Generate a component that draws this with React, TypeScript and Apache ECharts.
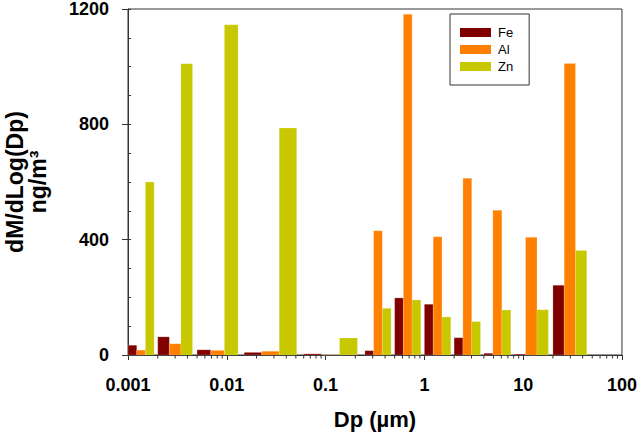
import React, { useEffect, useRef } from "react";
import * as echarts from "echarts";

// Stage (group) lower and upper diameters, µm
const groupLow = [0.001, 0.002, 0.005, 0.015, 0.06, 0.25, 0.5, 1.0, 2.0, 4.0, 8.1, 20];
const groupHigh = [0.00184, 0.0045, 0.013, 0.051, 0.21, 0.46, 0.92, 1.85, 3.7, 7.5, 18, 44];

// dM/dLog(Dp), ng/m3
const fe = [34, 63, 18, 9, 4, 15, 198, 176, 60, 6, 3, 242];
const al = [17, 39, 16, 13, 1, 431, 1182, 410, 613, 502, 408, 1011];
const zn = [600, 1010, 1145, 787, 59, 162, 191, 132, 116, 156, 157, 362];

const seriesNames = ["Fe", "Al", "Zn"];
const seriesColors = ["#800000", "#FF8000", "#C8C800"];
const seriesValues = [fe, al, zn];

const xTickLabels = ["0.001", "0.01", "0.1", "1", "10", "100"];
const yTickLabels = ["0", "400", "800", "1200"];
const xDecades = [0.001, 0.01, 0.1, 1, 10];
const minorMultipliers = [2, 3, 4, 5, 6, 7, 8, 9];

const FONT = "'Liberation Sans', Arial, Helvetica, sans-serif";

function buildBars(k: number) {
  const vals = seriesValues[k];
  return vals.map((v, i) => {
    const a = Math.log10(groupLow[i]);
    const b = Math.log10(groupHigh[i]);
    const w = (b - a) / 3;
    return [Math.pow(10, a + k * w), Math.pow(10, a + (k + 1) * w), v];
  });
}

export default function App() {
  const ref = useRef<HTMLDivElement>(null);
  useEffect(() => {
    if (!ref.current) return;
    const chart = echarts.init(ref.current, null, { renderer: "svg" });
    const minorTicks: number[][] = [];
    xDecades.forEach((d) => minorMultipliers.forEach((m) => minorTicks.push([d * m])));

    const barSeries = seriesNames.map((name, k) => ({
      name,
      type: "custom",
      coordinateSystem: "cartesian2d",
      xAxisIndex: 0,
      yAxisIndex: 0,
      itemStyle: { color: seriesColors[k] },
      encode: { x: [0, 1], y: 2 },
      data: buildBars(k),
      renderItem: (params: any, api: any) => {
        const p0 = api.coord([api.value(0), api.value(2)]);
        const p1 = api.coord([api.value(1), 0]);
        return {
          type: "rect",
          shape: { x: p0[0], y: p0[1], width: p1[0] - p0[0], height: p1[1] - p0[1] },
          style: { fill: seriesColors[k], stroke: "rgba(255,255,255,0.35)", lineWidth: 0.5 },
        };
      },
    }));

    chart.setOption({
      animation: false,
      backgroundColor: "#ffffff",
      grid: {
        left: 128,
        right: 16,
        top: 8,
        bottom: 79,
        show: true,
        borderColor: "#333",
        borderWidth: 1,
      },
      legend: {
        data: seriesNames,
        orient: "vertical",
        left: 450,
        top: 14,
        icon: "rect",
        itemWidth: 31,
        itemHeight: 9,
        itemGap: 4,
        padding: [12, 16, 12, 10],
        borderColor: "#333",
        borderWidth: 1,
        backgroundColor: "#fff",
        textStyle: { fontFamily: FONT, fontSize: 13, color: "#000", padding: [0, 0, 0, 2] },
      },
      xAxis: {
        type: "log",
        logBase: 10,
        min: 0.001,
        max: 100,
        name: "Dp (\u00b5m)",
        nameLocation: "middle",
        nameGap: 53,
        nameTextStyle: { fontFamily: FONT, fontSize: 22, fontWeight: "bold", color: "#000" },
        axisLine: { show: true, lineStyle: { color: "#333", width: 1 } },
        axisTick: { show: true, inside: false, length: 5, lineStyle: { color: "#333" } },
        splitLine: { show: false },
        axisLabel: {
          fontFamily: FONT,
          fontSize: 18,
          fontWeight: "bold",
          color: "#000",
          margin: 21,
          formatter: (v: number, i: number) => xTickLabels[i] ?? String(v),
        },
      },
      yAxis: [
        {
          type: "value",
          min: 0,
          max: 1200,
          interval: 400,
          axisLine: { show: true, lineStyle: { color: "#333", width: 1 } },
          axisTick: { show: true, inside: false, length: 6, lineStyle: { color: "#333" } },
          splitLine: { show: false },
          axisLabel: {
            fontFamily: FONT,
            fontSize: 18,
            fontWeight: "bold",
            color: "#000",
            margin: 19,
            formatter: (v: number, i: number) => yTickLabels[i] ?? String(v),
          },
        },
        {
          type: "value",
          position: "left",
          min: 0,
          max: 1200,
          interval: 100,
          axisLine: { show: false },
          axisTick: { show: true, inside: true, length: 3, lineStyle: { color: "#333" } },
          axisLabel: { show: false },
          splitLine: { show: false },
        },
      ],
      graphic: [
        {
          type: "text",
          x: 26,
          y: 182,
          rotation: Math.PI / 2,
          style: {
            text: "dM/dLog(Dp)\nng/m\u00b3",
            fontFamily: FONT,
            fontSize: 23,
            fontWeight: "bold",
            lineHeight: 23,
            fill: "#000",
            align: "center",
            verticalAlign: "middle",
          },
        },
      ],
      series: [
        ...barSeries,
        {
          name: "minorTicks",
          type: "custom",
          coordinateSystem: "cartesian2d",
          silent: true,
          clip: false,
          encode: { x: 0 },
          data: minorTicks,
          renderItem: (params: any, api: any) => {
            const p = api.coord([api.value(0), 0]);
            return {
              type: "line",
              shape: { x1: p[0], y1: p[1], x2: p[0], y2: p[1] + 3.5 },
              style: { stroke: "#333", lineWidth: 1 },
            };
          },
        },
      ],
    });
    return () => chart.dispose();
  }, []);
  return (
    <div
      ref={ref}
      style={{ position: "fixed", left: 0, top: 0, width: 640, height: 435, background: "#fff" }}
    />
  );
}
